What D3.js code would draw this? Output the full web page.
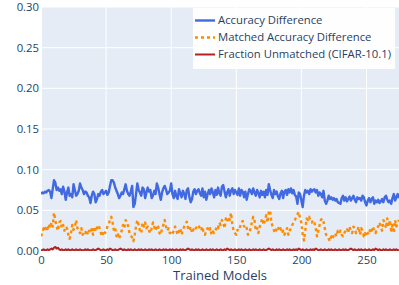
<!DOCTYPE html>
<html>
<head>
<meta charset="utf-8">
<script src="https://cdn.jsdelivr.net/npm/d3@7"></script>
<style>
  body { margin: 0; background: #fff; }
  svg { display: block; font-family: "Open Sans", sans-serif; }
  .tick text { fill: #2a3f5f; }
</style>
</head>
<body>
<div id="chart"></div>
<script>
const accuracyDiff = [
  70, 72, 71, 73, 72, 74, 75, 73, 65, 76,
  87, 84, 75, 78, 74, 76, 70, 79, 73, 63,
  72, 78, 68, 70, 66, 82, 75, 68, 70, 74,
  83, 78, 75, 70, 73, 72, 68, 66, 59, 68,
  73, 70, 60, 64, 70, 68, 73, 75, 70, 72,
  74, 69, 72, 80, 87, 87, 84, 78, 74, 70,
  65, 68, 72, 70, 76, 82, 74, 70, 68, 73,
  80, 54, 58, 70, 83, 75, 72, 68, 78, 76,
  65, 72, 78, 73, 75, 65, 68, 74, 70, 83,
  78, 70, 63, 72, 77, 80, 76, 70, 72, 74,
  83, 70, 65, 74, 67, 64, 76, 71, 66, 74,
  70, 64, 75, 77, 66, 60, 64, 73, 76, 70,
  74, 76, 71, 68, 77, 66, 73, 63, 70, 75,
  70, 77, 72, 66, 75, 69, 78, 71, 68, 79,
  81, 73, 66, 72, 76, 68, 74, 77, 70, 75,
  72, 69, 77, 68, 75, 73, 66, 73, 63, 70,
  76, 74, 70, 77, 72, 68, 75, 71, 66, 74,
  69, 73, 66, 75, 69, 82, 75, 69, 65, 75,
  70, 73, 67, 64, 71, 74, 65, 73, 75, 69,
  76, 72, 77, 71, 75, 69, 67, 58, 72, 70,
  62, 54, 68, 75, 72, 74, 70, 76, 73, 75,
  76, 72, 75, 68, 72, 70, 66, 74, 62, 58,
  62, 68, 64, 66, 63, 65, 62, 64, 60, 59,
  58, 65, 68, 62, 66, 61, 64, 67, 62, 65,
  68, 63, 60, 66, 64, 65, 62, 68, 66, 60,
  56, 62, 65, 60, 64, 66, 58, 62, 60, 63,
  59, 61, 64, 60, 66, 68, 63, 60, 62, 58,
  65, 70, 62, 66, 70, 65
];

const matchedDiff = [
  18, 22, 28, 25, 30, 27, 33, 28, 35, 30,
  47, 38, 30, 25, 35, 37, 28, 32, 25, 30,
  28, 20, 15, 22, 32, 26, 30, 38, 28, 25,
  22, 28, 20, 24, 22, 26, 20, 25, 22, 27,
  20, 30, 24, 28, 32, 28, 22, 18, 25, 22,
  25, 30, 33, 38, 42, 35, 25, 28, 18, 22,
  15, 20, 25, 32, 28, 38, 35, 30, 22, 20,
  16, 12, 20, 30, 38, 32, 25, 22, 35, 30,
  35, 28, 30, 25, 22, 28, 35, 30, 25, 32,
  30, 22, 20, 28, 32, 38, 30, 25, 28, 22,
  22, 20, 26, 30, 25, 20, 24, 28, 20, 26,
  30, 33, 36, 28, 25, 30, 22, 26, 30, 28,
  30, 32, 28, 25, 30, 22, 20, 26, 28, 24,
  28, 20, 24, 22, 25, 30, 28, 35, 32, 38,
  35, 28, 40, 36, 42, 38, 47, 32, 25, 22,
  20, 26, 25, 30, 35, 37, 30, 32, 28, 20,
  22, 28, 35, 42, 38, 25, 28, 22, 30, 35,
  40, 32, 38, 44, 35, 48, 50, 35, 30, 25,
  22, 28, 30, 25, 28, 22, 25, 20, 24, 28,
  20, 25, 28, 32, 35, 38, 42, 45, 48, 40,
  35, 20, 13, 25, 40, 38, 42, 36, 35, 38,
  35, 28, 18, 25, 32, 38, 40, 36, 28, 20,
  18, 15, 12, 18, 15, 20, 22, 18, 25, 22,
  25, 20, 18, 22, 25, 28, 22, 30, 25, 22,
  30, 28, 22, 25, 30, 20, 28, 25, 18, 22,
  18, 22, 20, 28, 25, 30, 25, 22, 28, 30,
  35, 30, 25, 38, 35, 28, 40, 30, 38, 25,
  32, 22, 38, 30, 35, 38
];

const fractionUnmatched = [
  1, 1, 2, 1, 1, 2, 1, 2, 3, 2,
  4, 5, 3, 4, 2, 1, 2, 1, 1, 2,
  1, 2, 1, 1, 2, 1, 1, 2, 1, 1,
  2, 1, 1, 1, 2, 1, 2, 1, 1, 1,
  2, 1, 1, 2, 3, 2, 1, 1, 2, 1,
  1, 2, 1, 3, 2, 1, 1, 2, 1, 1,
  2, 3, 2, 1, 2, 1, 1, 2, 1, 2,
  1, 1, 2, 1, 1, 2, 1, 2, 1, 1,
  2, 1, 1, 2, 1, 2, 1, 1, 2, 1,
  1, 2, 1, 1, 2, 1, 2, 1, 1, 2,
  1, 2, 1, 1, 2, 1, 1, 2, 1, 2,
  1, 1, 2, 3, 2, 1, 2, 1, 1, 2,
  1, 2, 1, 1, 2, 1, 1, 2, 1, 1,
  2, 1, 2, 1, 1, 2, 1, 1, 2, 1,
  1, 2, 1, 3, 2, 1, 2, 1, 1, 2,
  1, 1, 2, 1, 2, 1, 1, 2, 1, 1,
  2, 1, 1, 2, 1, 2, 1, 1, 2, 1,
  1, 2, 1, 1, 2, 3, 2, 1, 2, 1,
  1, 2, 1, 2, 1, 1, 2, 1, 1, 2,
  1, 2, 1, 1, 2, 1, 2, 1, 3, 2,
  1, 2, 1, 1, 2, 1, 1, 2, 1, 2,
  1, 3, 2, 1, 1, 2, 1, 1, 2, 1,
  1, 2, 1, 2, 1, 1, 2, 1, 1, 2,
  1, 1, 2, 1, 2, 1, 1, 2, 3, 2,
  1, 2, 1, 1, 2, 1, 2, 1, 1, 2,
  1, 1, 2, 1, 1, 2, 1, 3, 2, 1,
  2, 1, 1, 2, 1, 2, 1, 1, 2, 1,
  1, 2, 1, 2, 1, 1
];

const xTicks = [0, 50, 100, 150, 200, 250];
const yTicks = [0, 0.05, 0.10, 0.15, 0.20, 0.25, 0.30];

const series = [
  { name: 'Accuracy Difference', values: accuracyDiff, color: '#4169e1', width: 2.4, dash: null },
  { name: 'Matched Accuracy Difference', values: matchedDiff, color: '#ff8c00', width: 2.4, dash: '3,3' },
  { name: 'Fraction Unmatched (CIFAR-10.1)', values: fractionUnmatched, color: '#b22222', width: 2, dash: null }
];

const width = 399, height = 285;
const margin = { top: 7, right: 0, bottom: 34, left: 41 };
const innerW = width - margin.left - margin.right;
const innerH = height - margin.top - margin.bottom;
const fontSize = 11.3;

const svg = d3.select('#chart').append('svg')
  .attr('width', width)
  .attr('height', height);

const x = d3.scaleLinear().domain([0, 275]).range([margin.left, margin.left + innerW]);
const y = d3.scaleLinear().domain([0, 0.3]).range([margin.top + innerH, margin.top]);

svg.append('rect')
  .attr('x', margin.left).attr('y', margin.top)
  .attr('width', innerW).attr('height', innerH)
  .attr('fill', '#e5ecf6');

// grid
const grid = svg.append('g').attr('stroke', '#fff');
grid.selectAll('.vx').data(xTicks.filter(d => d > 0)).join('line')
  .attr('x1', d => x(d)).attr('x2', d => x(d))
  .attr('y1', margin.top).attr('y2', margin.top + innerH)
  .attr('stroke-width', 1);
grid.selectAll('.hy').data(yTicks.filter(d => d > 0)).join('line')
  .attr('x1', margin.left).attr('x2', margin.left + innerW)
  .attr('y1', d => y(d)).attr('y2', d => y(d))
  .attr('stroke-width', 1);
// zero lines
grid.append('line')
  .attr('x1', x(0)).attr('x2', x(0))
  .attr('y1', margin.top).attr('y2', margin.top + innerH)
  .attr('stroke-width', 2);
grid.append('line')
  .attr('x1', margin.left).attr('x2', margin.left + innerW)
  .attr('y1', y(0)).attr('y2', y(0))
  .attr('stroke-width', 2);

svg.append('clipPath').attr('id', 'plot-clip')
  .append('rect')
  .attr('x', margin.left).attr('y', margin.top)
  .attr('width', innerW).attr('height', innerH);

const line = d3.line()
  .x((d, i) => x(i))
  .y(d => y(d / 1000));

svg.append('g').attr('clip-path', 'url(#plot-clip)')
  .selectAll('path')
  .data(series.slice().reverse())
  .join('path')
  .attr('d', d => line(d.values))
  .attr('fill', 'none')
  .attr('stroke', d => d.color)
  .attr('stroke-width', d => d.width)
  .attr('stroke-dasharray', d => d.dash)
  .attr('stroke-linejoin', 'round');

// axes
const xAxis = svg.append('g')
  .attr('transform', `translate(0,${margin.top + innerH})`)
  .call(d3.axisBottom(x).tickValues(xTicks).tickSize(0).tickPadding(5));
const yAxis = svg.append('g')
  .attr('transform', `translate(${margin.left},0)`)
  .call(d3.axisLeft(y).tickValues(yTicks).tickFormat(d3.format('.2f')).tickSize(0).tickPadding(2));
[xAxis, yAxis].forEach(a => {
  a.select('.domain').remove();
  a.selectAll('text').attr('font-size', fontSize).attr('font-family', '"Open Sans", sans-serif');
});

svg.append('text')
  .attr('x', margin.left + innerW / 2)
  .attr('y', 279.5)
  .attr('text-anchor', 'middle')
  .attr('font-size', 13)
  .attr('fill', '#2a3f5f')
  .text('Trained Models');

// legend
const legend = svg.append('g');
legend.append('rect')
  .attr('x', 193).attr('y', 8)
  .attr('width', 202).attr('height', 61)
  .attr('fill', '#fff').attr('fill-opacity', 0.95);
const item = legend.selectAll('.item').data(series).join('g')
  .attr('transform', (d, i) => `translate(195,${20.5 + i * 17})`);
item.append('line')
  .attr('x1', 0).attr('x2', 20)
  .attr('stroke', d => d.color)
  .attr('stroke-width', d => d.width)
  .attr('stroke-dasharray', d => d.dash);
item.append('text')
  .attr('x', 23)
  .attr('dy', '0.35em')
  .attr('font-size', fontSize)
  .attr('fill', '#2a3f5f')
  .text(d => d.name);
</script>
</body>
</html>
